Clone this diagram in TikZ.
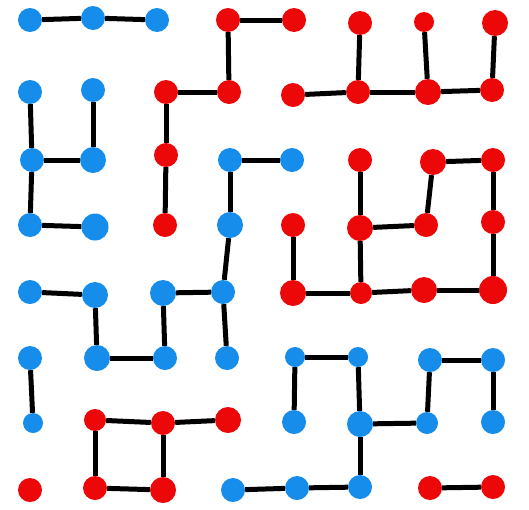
\documentclass[tikz,border=0pt]{standalone}
\definecolor{dotblue}{RGB}{22,140,235}
\definecolor{dotred}{RGB}{236,8,8}
\begin{document}
\begin{tikzpicture}[x=1pt,y=-1pt,
  bd/.style={circle,fill=dotblue,inner sep=0pt,minimum size=24pt},
  rd/.style={circle,fill=dotred,inner sep=0pt,minimum size=24pt},
  edge/.style={line width=5pt,black}]
\useasboundingbox (0,0) rectangle (529,509);
% row 0
\node[bd] (a0) at (30,20) {};
\node[bd] (b0) at (93,18) {};
\node[bd] (c0) at (157,20) {};
\node[rd] (d0) at (228,20) {};
\node[rd] (e0) at (294,20) {};
\node[rd] (f0) at (360,23) {};
\node[rd,minimum size=20pt] (g0) at (424,22) {};
\node[rd,minimum size=26pt] (h0) at (495,23) {};
% row 1
\node[bd] (a1) at (30,92) {};
\node[bd] (b1) at (93,90) {};
\node[rd] (c1) at (166,92) {};
\node[rd] (d1) at (229,92) {};
\node[rd] (e1) at (293,95) {};
\node[rd] (f1) at (358,92) {};
\node[rd,minimum size=26pt] (g1) at (428,92) {};
\node[rd] (h1) at (492,90) {};
% row 2
\node[bd] (a2) at (32,160) {};
\node[bd,minimum size=26pt] (b2) at (93,160) {};
\node[rd] (c2) at (166,155) {};
\node[bd] (d2) at (230,160) {};
\node[bd] (e2) at (292,160) {};
\node[rd] (f2) at (360,160) {};
\node[rd,minimum size=26pt] (g2) at (433,162) {};
\node[rd] (h2) at (493,160) {};
% row 3
\node[bd] (a3) at (30,225) {};
\node[bd,minimum size=27pt] (b3) at (95,227) {};
\node[rd] (c3) at (165,225) {};
\node[bd,minimum size=26pt] (d3) at (230,225) {};
\node[rd] (e3) at (293,225) {};
\node[rd,minimum size=26pt] (f3) at (360,228) {};
\node[rd] (g3) at (426,225) {};
\node[rd] (h3) at (493,222) {};
% row 4
\node[bd] (a4) at (30,292) {};
\node[bd,minimum size=26pt] (b4) at (95,295) {};
\node[bd,minimum size=26pt] (c4) at (163,293) {};
\node[bd] (d4) at (223,292) {};
\node[rd,minimum size=26pt] (e4) at (293,293) {};
\node[rd,minimum size=22pt] (f4) at (361,293) {};
\node[rd,minimum size=26pt] (g4) at (424,290) {};
\node[rd,minimum size=28pt] (h4) at (493,290) {};
% row 5
\node[bd] (a5) at (30,358) {};
\node[bd,minimum size=26pt] (b5) at (97,358) {};
\node[bd] (c5) at (165,358) {};
\node[bd] (d5) at (227,358) {};
\node[bd,minimum size=20pt] (e5) at (295,357) {};
\node[bd,minimum size=20pt] (f5) at (358,357) {};
\node[bd] (g5) at (430,360) {};
\node[bd] (h5) at (493,360) {};
% row 6
\node[bd,minimum size=20pt] (a6) at (33,423) {};
\node[rd,minimum size=22pt] (b6) at (95,420) {};
\node[rd] (c6) at (163,423) {};
\node[rd,minimum size=26pt] (d6) at (228,420) {};
\node[bd] (e6) at (294,422) {};
\node[bd,minimum size=26pt] (f6) at (360,424) {};
\node[bd,minimum size=22pt] (g6) at (427,423) {};
\node[bd] (h6) at (493,422) {};
% row 7
\node[rd] (a7) at (30,490) {};
\node[rd] (b7) at (95,488) {};
\node[rd,minimum size=26pt] (c7) at (163,490) {};
\node[bd] (d7) at (233,490) {};
\node[bd] (e7) at (297,488) {};
\node[bd] (f7) at (360,487) {};
\node[rd] (g7) at (430,488) {};
\node[rd] (h7) at (493,487) {};
% edges
\begin{scope}[on background layer/.style={}]
\end{scope}
\draw[edge] (a0) -- (b0);
\draw[edge] (b0) -- (c0);
\draw[edge] (d0) -- (e0);
\draw[edge] (d0) -- (d1);
\draw[edge] (c1) -- (d1);
\draw[edge] (e1) -- (f1);
\draw[edge] (f1) -- (g1);
\draw[edge] (g1) -- (h1);
\draw[edge] (f0) -- (f1);
\draw[edge] (g0) -- (g1);
\draw[edge] (h0) -- (h1);
\draw[edge] (a1) -- (a2);
\draw[edge] (b1) -- (b2);
\draw[edge] (c1) -- (c2);
\draw[edge] (a2) -- (b2);
\draw[edge] (a2) -- (a3);
\draw[edge] (c2) -- (c3);
\draw[edge] (d2) -- (e2);
\draw[edge] (d2) -- (d3);
\draw[edge] (g2) -- (h2);
\draw[edge] (g2) -- (g3);
\draw[edge] (h2) -- (h3);
\draw[edge] (f2) -- (f3);
\draw[edge] (a3) -- (b3);
\draw[edge] (f3) -- (g3);
\draw[edge] (e3) -- (e4);
\draw[edge] (f3) -- (f4);
\draw[edge] (h3) -- (h4);
\draw[edge] (d3) -- (d4);
\draw[edge] (a4) -- (b4);
\draw[edge] (c4) -- (d4);
\draw[edge] (e4) -- (f4);
\draw[edge] (f4) -- (g4);
\draw[edge] (g4) -- (h4);
\draw[edge] (b4) -- (b5);
\draw[edge] (c4) -- (c5);
\draw[edge] (d4) -- (d5);
\draw[edge] (b5) -- (c5);
\draw[edge] (a5) -- (a6);
\draw[edge] (e5) -- (f5);
\draw[edge] (e5) -- (e6);
\draw[edge] (f5) -- (f6);
\draw[edge] (g5) -- (h5);
\draw[edge] (g5) -- (g6);
\draw[edge] (h5) -- (h6);
\draw[edge] (b6) -- (c6);
\draw[edge] (c6) -- (d6);
\draw[edge] (b6) -- (b7);
\draw[edge] (c6) -- (c7);
\draw[edge] (f6) -- (g6);
\draw[edge] (f6) -- (f7);
\draw[edge] (b7) -- (c7);
\draw[edge] (d7) -- (e7);
\draw[edge] (e7) -- (f7);
\draw[edge] (g7) -- (h7);
\end{tikzpicture}
\end{document}
